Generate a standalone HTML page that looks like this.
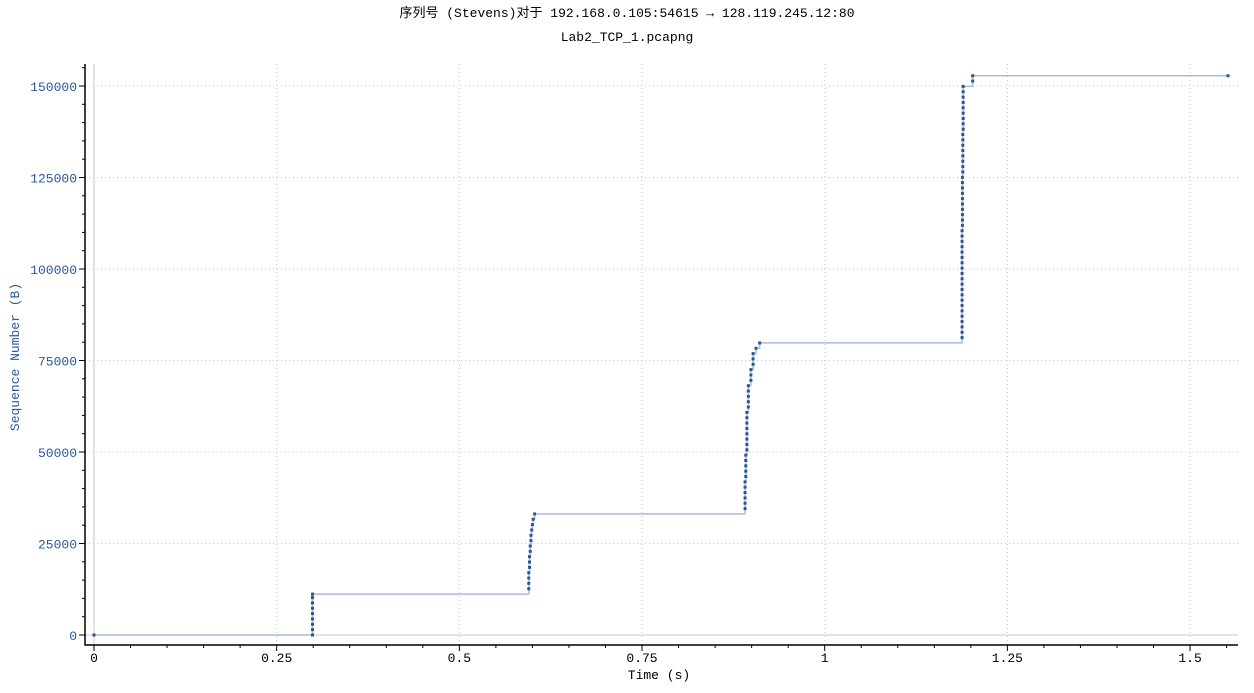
<!DOCTYPE html>
<html><head><meta charset="utf-8">
<style>
body{margin:0;background:#fff;width:1254px;height:688px;overflow:hidden}
svg text{font-family:"Liberation Mono","Noto Sans CJK SC",monospace}
</style></head>
<body>
<svg id="chart" width="1254" height="688" xmlns="http://www.w3.org/2000/svg">
<text x="627" y="17" text-anchor="middle" font-size="13" fill="#000">序列号 (Stevens)对于 192.168.0.105:54615 → 128.119.245.12:80</text>
<text x="627" y="41" text-anchor="middle" font-size="13" fill="#000">Lab2_TCP_1.pcapng</text>
<g id="grid"></g><g id="axes"></g><g id="series"></g>
<text x="659" y="679" text-anchor="middle" font-size="13" fill="#000">Time (s)</text>
<text transform="translate(19,357) rotate(-90)" text-anchor="middle" font-size="13" fill="#2a5a9a">Sequence Number (B)</text>
</svg>
<script>
const xTicks=[0,0.25,0.5,0.75,1,1.25,1.5];
const xTickLabels=["0","0.25","0.5","0.75","1","1.25","1.5"];
const yTicks=[0,25000,50000,75000,100000,125000,150000];
const yTickLabels=["0","25000","50000","75000","100000","125000","150000"];
const times=[0,
0.299,0.299,0.299,0.299,0.299,0.299,0.299,0.299,0.299,
0.595,0.595,0.595,0.595,0.596,0.596,0.596,0.597,0.597,0.598,0.598,0.599,0.600,0.601,0.603,
0.891,0.891,0.891,0.891,0.891,0.891,0.892,0.892,0.892,0.892,0.892,0.8935,0.8935,0.8935,0.8935,0.8935,0.8935,0.8935,0.8935,0.8955,0.8955,0.8955,0.8955,0.8955,0.899,0.899,0.899,0.902,0.902,0.902,0.906,0.911,
1.188,1.188,1.188,1.188,1.188,1.188,1.188,1.188,1.188,1.188,1.188,1.188,1.188,1.188,1.188,1.188,1.188,1.188,1.188,1.188,1.188,1.1885,1.1885,1.1885,1.1885,1.1885,1.1885,1.1885,1.1885,1.1885,1.1885,1.189,1.189,1.189,1.189,1.189,1.189,1.189,1.189,1.1895,1.1895,1.1895,1.1895,1.1895,1.1895,1.1895,1.1895,1.1895,
1.2025,1.2025,1.552];
const seqs=[0,
1,1461,2921,4381,5841,7301,8761,10221,11181,
12641,14101,15561,17021,18481,19941,21401,22861,24321,25781,27241,28701,30161,31621,33081,
34541,36001,37461,38921,40381,41841,43301,44761,46221,47681,49141,50601,52061,53521,54981,56441,57901,59361,60821,62281,63741,65201,66661,68121,69581,71041,72501,73961,75421,76881,78341,79801,
81261,82721,84181,85641,87101,88561,90021,91481,92941,94401,95861,97321,98781,100241,101701,103161,104621,106081,107541,109001,110461,111921,113381,114841,116301,117761,119221,120681,122141,123601,125061,126521,127981,129441,130901,132361,133821,135281,136741,138201,139661,141121,142581,144041,145501,146961,148421,149881,
151341,152801,152801];
const NS="http://www.w3.org/2000/svg";
const X0=94,XS=730.7,Y0=635,YS=549/150000;
const L=85,R=1238,T=64,B=645;
const xs=v=>X0+v*XS, ys=v=>Y0-v*YS;
function mk(tag,attrs,parent){const e=document.createElementNS(NS,tag);for(const k in attrs)e.setAttribute(k,attrs[k]);parent.appendChild(e);return e;}
const grid=document.getElementById('grid'),axes=document.getElementById('axes'),series=document.getElementById('series');
xTicks.forEach((t,i)=>{
 const g=mk('line',{x1:xs(t),x2:xs(t),y1:T,y2:B,stroke:'#c8c8c8','stroke-dasharray':t===0?'':'1 3'},grid);
 
 
 const tk=mk('line',{x1:xs(t),x2:xs(t),y1:B,y2:B+6,stroke:'#000'},axes);
 
 
 const lb=mk('text',{x:xs(t),y:B+17,'text-anchor':'middle','font-size':13,fill:'#000'},axes);lb.textContent=xTickLabels[i];
 
 
});
for(let t=0.05;t<1.56;t+=0.05){if(Math.abs(t/0.25-Math.round(t/0.25))<1e-6)continue;mk('line',{x1:xs(t),x2:xs(t),y1:B,y2:B+3,stroke:'#000'},axes);}
yTicks.forEach((v,i)=>{
 const g=mk('line',{x1:L,x2:R,y1:ys(v),y2:ys(v),stroke:'#c8c8c8','stroke-dasharray':v===0?'':'1 3'},grid);
 
 
 const tk=mk('line',{x1:L-6,x2:L,y1:ys(v),y2:ys(v),stroke:'#000'},axes);
 
 
 const lb=mk('text',{x:L-8,y:ys(v)+5,'text-anchor':'end','font-size':13,fill:'#2a5a9a'},axes);lb.textContent=yTickLabels[i];
 
 
});
for(let v=5000;v<158000;v+=5000){if(v%25000===0)continue;mk('line',{x1:L-3,x2:L,y1:ys(v),y2:ys(v),stroke:'#000'},axes);}
const ax=mk('path',{d:`M${L},${T} V${B} H${R}`,fill:'none',stroke:'#000','stroke-width':1.5},axes);


let d=`M${xs(times[0])},${ys(seqs[0])}`;
for(let i=1;i<times.length;i++){d+=` H${xs(times[i])} V${ys(seqs[i])}`;}
const ln=mk('path',{d:d,fill:'none',stroke:'#a9bcd6','stroke-width':1.5},series);


times.forEach((t,i)=>{
 const p=mk('rect',{x:xs(t)-1.5,y:ys(seqs[i])-1.5,width:3,height:3,fill:'#2a5595'},series);
 
 
});
</script>
</body></html>
